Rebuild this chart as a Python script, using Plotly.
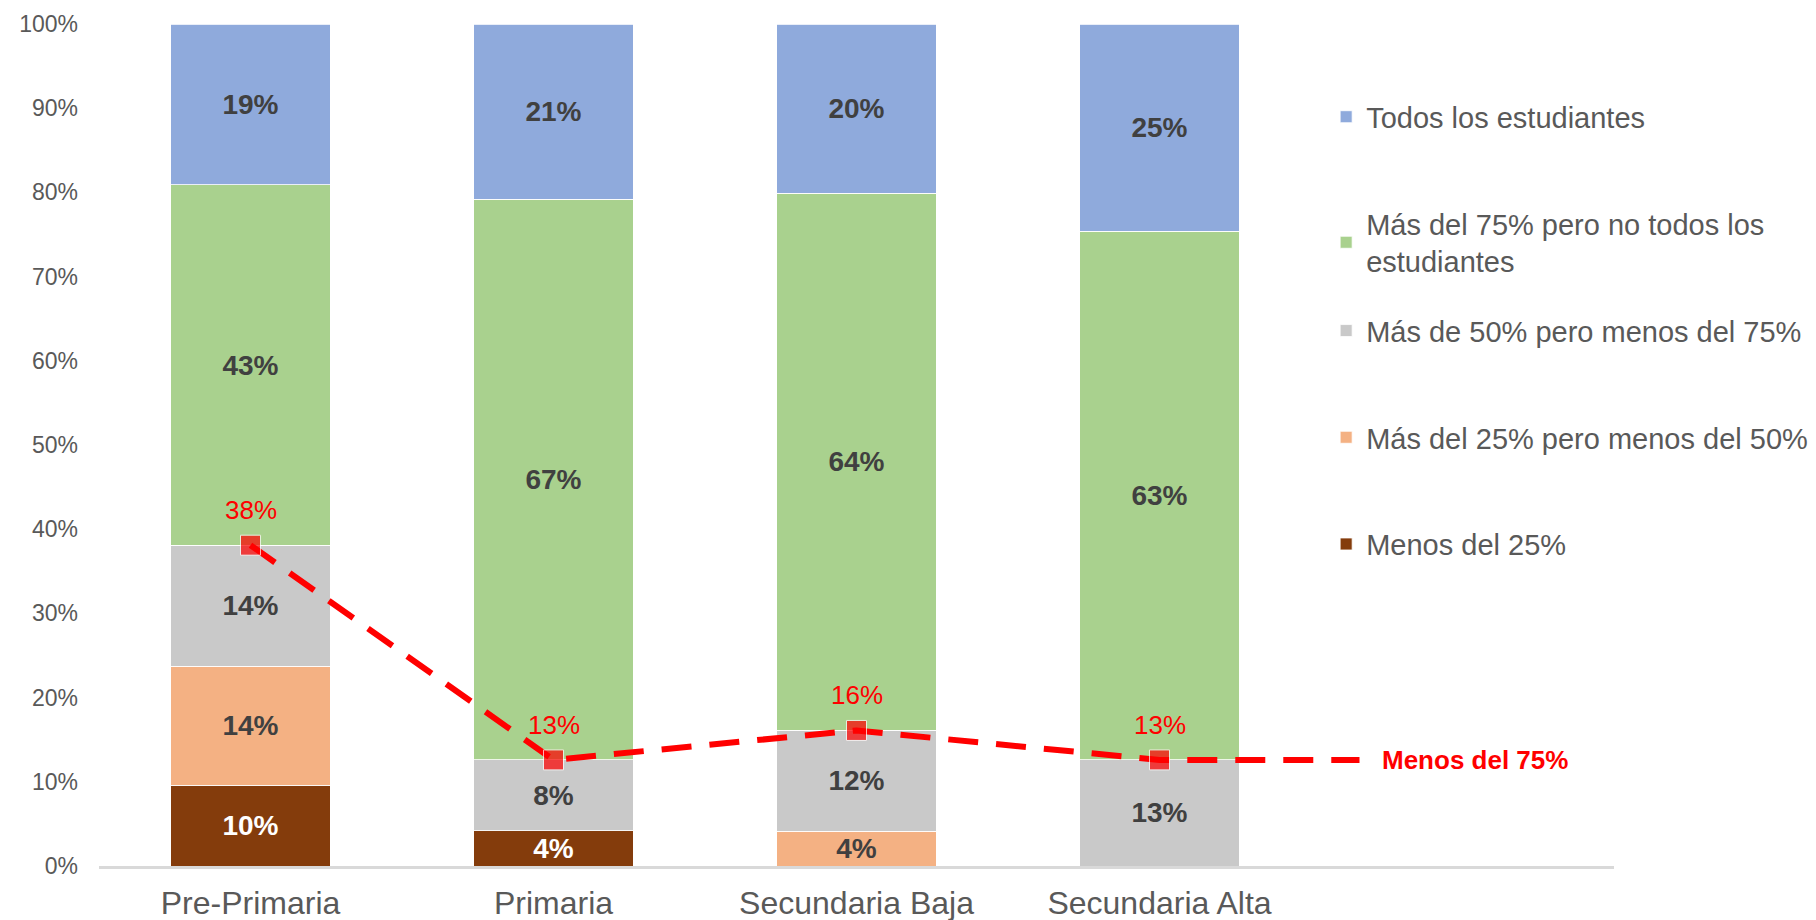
import plotly.graph_objects as go

categories = ["Pre-Primaria", "Primaria", "Secundaria Baja", "Secundaria Alta", ""]

menos_25 = [9.6, 4.2, 0.0, 0.0]
mas_25_menos_50 = [14.1, 0.0, 4.1, 0.0]
mas_50_menos_75 = [14.4, 8.4, 12.0, 12.6]
mas_75_no_todos = [42.8, 66.6, 63.8, 62.8]
todos = [19.1, 20.8, 20.1, 24.6]

series_names = [
    "Menos del 25%",
    "Más del 25% pero menos del 50%",
    "Más de 50% pero menos del 75%",
    "Más del 75% pero no todos los<br>estudiantes",
    "Todos los estudiantes",
]
series_values = [menos_25, mas_25_menos_50, mas_50_menos_75, mas_75_no_todos, todos]
series_colors = ["#843c0c", "#f4b183", "#c9c9c9", "#a9d18e", "#8faadc"]
label_colors = ["#ffffff", "#404040", "#404040", "#404040", "#404040"]
legend_ids = ["legend2", "legend2", "legend2", "legend", "legend"]

line_name = "Menos del 75%"
line_vals = [a + b + c for a, b, c in zip(menos_25, mas_25_menos_50, mas_50_menos_75)]

FONT = "Arial, Liberation Sans, sans-serif"

fig = go.Figure()
n = len(series_names)
for i, (name, vals, col, lc, lg) in enumerate(
        zip(series_names, series_values, series_colors, label_colors, legend_ids)):
    fig.add_trace(go.Bar(
        x=categories[:4], y=vals, name=name, legendgroup=name, legendrank=n - i,
        legend=lg,
        marker=dict(color=col, line=dict(color="#ffffff", width=0.8)),
        text=[f"{v:.0f}%" if v > 0 else "" for v in vals],
        textposition="inside", insidetextanchor="middle",
        textfont=dict(family=FONT, size=28, color=lc, weight="bold"),
        hoverinfo="skip",
    ))

line_x = categories[:len(line_vals)] + [categories[-1]]
line_y = line_vals + [line_vals[-1]]
fig.add_trace(go.Scatter(
    x=line_x, y=line_y, mode="lines+markers", showlegend=False,
    line=dict(color="#ff0000", width=6, dash="30px,18px"),
    marker=dict(symbol="square", size=[20, 20, 20, 20, 0], color="#ff0000"),
    hoverinfo="skip",
))

for i, v in enumerate(line_vals):
    fig.add_annotation(
        x=i, y=v, text=f"{v:.0f}%", showarrow=False, yshift=35,
        font=dict(family=FONT, size=26, color="#ff0000"),
        xanchor="center", yanchor="middle",
    )

fig.add_annotation(
    x=len(categories) - 1, y=line_y[-1], text=f"<b>{line_name}</b>", showarrow=False,
    font=dict(family=FONT, size=26, color="#ff0000"), xshift=12,
    bgcolor="#ffffff", borderpad=22, xanchor="center", yanchor="middle",
)

legend_style = dict(
    xanchor="left", yanchor="top",
    traceorder="grouped", tracegroupgap=66,
    font=dict(family=FONT, size=29, color="#595959"),
    bgcolor="rgba(0,0,0,0)", itemclick=False, itemdoubleclick=False,
)

fig.update_layout(
    width=1816, height=920,
    margin=dict(l=99, r=202, t=24, b=54, autoexpand=False),
    paper_bgcolor="#ffffff", plot_bgcolor="#ffffff",
    barmode="stack", bargap=0.475,
    uniformtext=dict(minsize=28, mode="show"),
    font=dict(family=FONT, color="#595959"),
    showlegend=True,
    legend=dict(x=0.810, y=0.92, **legend_style),
    legend2=dict(x=0.810, y=0.666, **legend_style),
    xaxis=dict(
        categoryorder="array", categoryarray=categories,
        range=[-0.5, 4.5], showgrid=False, showline=True,
        linecolor="#d9d9d9", linewidth=3, ticks="",
        tickfont=dict(family=FONT, size=32, color="#595959"),
        ticklabelstandoff=7, zeroline=False,
    ),
    yaxis=dict(
        range=[0, 100], dtick=10, ticksuffix="%", showgrid=False,
        showline=False, zeroline=False, ticks="",
        tickfont=dict(family=FONT, size=23, color="#595959"),
        ticklabelstandoff=20,
    ),
)

fig.write_html(
    "out.html",
    config={"displayModeBar": False},
    post_script="document.body.style.margin='0';document.body.style.overflow='hidden';",
)
